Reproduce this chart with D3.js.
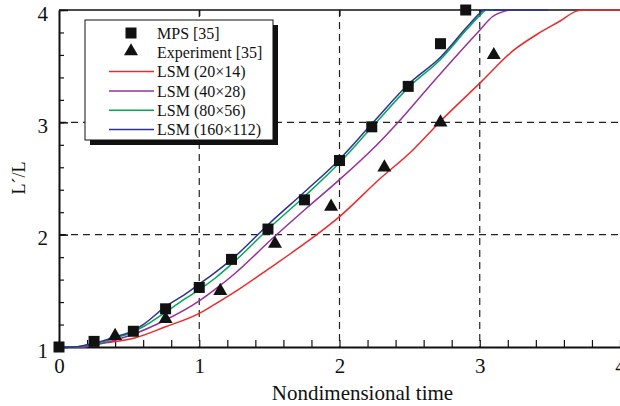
<!DOCTYPE html>
<html>
<head>
<meta charset="utf-8">
<script src="https://cdn.jsdelivr.net/npm/d3@7"></script>
<style>
  html, body { margin: 0; padding: 0; background: #fff; overflow: hidden; }
  svg { display: block; font-family: "Liberation Serif", "Times New Roman", serif; }
</style>
</head>
<body>
<svg id="chart" width="620" height="406"></svg>
<script>
// ---- Data ----
const xTicks = [0, 1, 2, 3, 4];
const yTicks = [1, 2, 3, 4];
const xTitle = "Nondimensional time";
const yTitle = "L\u00B4/L";

const mpsT = [0, 0.25, 0.53, 0.76, 1.0, 1.23, 1.49, 1.75, 2.0, 2.23, 2.49, 2.72, 2.90];
const mpsV = [1.0, 1.05, 1.14, 1.34, 1.53, 1.78, 2.05, 2.31, 2.66, 2.96, 3.32, 3.70, 4.0];

const expT = [0.40, 0.76, 1.15, 1.54, 1.94, 2.32, 2.72, 3.10];
const expV = [1.09, 1.24, 1.49, 1.91, 2.24, 2.59, 2.99, 3.59];

const lsm20T = [0, 0.15, 0.3, 0.54, 0.76, 1.0, 1.11, 1.29, 1.5, 1.65, 2.0, 2.29, 2.52, 2.72, 3.01, 3.24, 3.43, 3.57, 3.69, 3.73, 4.05];
const lsm20V = [1, 1.0, 1.03, 1.08, 1.18, 1.30, 1.38, 1.52, 1.70, 1.83, 2.16, 2.50, 2.75, 3.01, 3.36, 3.64, 3.80, 3.90, 3.99, 4.0, 4.0];

const lsm40T = [0, 0.15, 0.3, 0.5, 0.76, 1.0, 1.11, 1.25, 1.525, 1.75, 2.0, 2.29, 2.41, 2.64, 2.81, 3.0, 3.09, 3.18, 3.22];
const lsm40V = [1, 1.0, 1.03, 1.10, 1.24, 1.41, 1.51, 1.65, 1.97, 2.22, 2.49, 2.83, 2.99, 3.32, 3.56, 3.82, 3.94, 3.99, 4.0];

const lsm80T = [0, 0.1, 0.2, 0.3, 0.4, 0.5, 0.6, 0.76, 0.9, 1.0, 1.11, 1.25, 1.5, 1.75, 2.0, 2.24, 2.5, 2.72, 2.91, 3.0, 3.05, 3.1];
const lsm80V = [1, 1.0, 1.015, 1.04, 1.08, 1.12, 1.18, 1.31, 1.43, 1.51, 1.61, 1.76, 2.06, 2.34, 2.64, 2.97, 3.32, 3.56, 3.83, 3.95, 4.0, 4.0];

const lsm160T = [0, 0.1, 0.2, 0.3, 0.4, 0.5, 0.6, 0.76, 0.9, 1.0, 1.11, 1.25, 1.5, 1.75, 2.0, 2.24, 2.5, 2.72, 2.91, 3.0, 3.03, 3.49];
const lsm160V = [1, 1.0, 1.02, 1.05, 1.09, 1.13, 1.20, 1.36, 1.47, 1.56, 1.66, 1.80, 2.10, 2.38, 2.67, 3.0, 3.35, 3.58, 3.85, 3.97, 4.0, 4.0];

const seriesNames = ["LSM (20\u00D714)", "LSM (40\u00D728)", "LSM (80\u00D756)", "LSM (160\u00D7112)"];
const seriesColors = ["#ed2a2a", "#93329a", "#00a859", "#2e3192"];

// ---- Build ----
const lines = [
  { name: seriesNames[0], color: seriesColors[0], pts: lsm20T.map((t, i) => [t, lsm20V[i]]) },
  { name: seriesNames[1], color: seriesColors[1], pts: lsm40T.map((t, i) => [t, lsm40V[i]]) },
  { name: seriesNames[2], color: seriesColors[2], pts: lsm80T.map((t, i) => [t, lsm80V[i]]) },
  { name: seriesNames[3], color: seriesColors[3], pts: lsm160T.map((t, i) => [t, lsm160V[i]]) }
];
const mps = mpsT.map((t, i) => [t, mpsV[i]]);
const exp = expT.map((t, i) => [t, expV[i]]);

const svg = d3.select("#chart");
const x0 = 59, x1 = 620, yb = 347, yt = 10;
const x = d3.scaleLinear().domain([0, 4]).range([x0, x1]);
const y = d3.scaleLinear().domain([1, 4]).range([yb, yt]);

// grid (dashed)
const grid = svg.append("g");
grid.selectAll("line.v").data([1, 2, 3]).join("line")
  .attr("x1", d => x(d)).attr("x2", d => x(d))
  .attr("y1", yt).attr("y2", yb)
  .attr("stroke", "#222").attr("stroke-width", 1.2).attr("stroke-dasharray", "7,5");
grid.selectAll("line.h").data([2, 3]).join("line")
  .attr("x1", x0).attr("x2", x1)
  .attr("y1", d => y(d)).attr("y2", d => y(d))
  .attr("stroke", "#222").attr("stroke-width", 1.2).attr("stroke-dasharray", "7,5");

// top frame
svg.append("line").attr("x1", x0).attr("x2", 620).attr("y1", yt).attr("y2", yt)
  .attr("stroke", "#111").attr("stroke-width", 1.5);
// top ticks
svg.append("g").attr("transform", `translate(0,${yt})`)
  .call(d3.axisTop(x).tickValues([1, 2, 3]).tickSize(-6).tickFormat(""))
  .call(g => g.select(".domain").remove())
  .call(g => g.selectAll("line").attr("stroke", "#111").attr("stroke-width", 1.2));

// bottom minor ticks
svg.append("g").attr("transform", `translate(0,${yb})`)
  .call(d3.axisBottom(x).tickValues(d3.range(0, 4.01, 0.2)).tickSize(-7).tickFormat(""))
  .call(g => g.select(".domain").remove())
  .call(g => g.selectAll("line").attr("stroke", "#111").attr("stroke-width", 1.2));
// bottom major
svg.append("g").attr("transform", `translate(0,${yb})`)
  .call(d3.axisBottom(x).tickValues(xTicks).tickSize(0).tickSizeOuter(0).tickFormat(d3.format("d")))
  .call(g => g.select(".domain").attr("stroke", "#111").attr("stroke-width", 2))
  .call(g => g.selectAll("text").attr("y", 26).attr("dy", null)
      .attr("font-size", 21).attr("font-family", "Liberation Serif").attr("fill", "#111"));

// left minor ticks
svg.append("g").attr("transform", `translate(${x0},0)`)
  .call(d3.axisLeft(y).tickValues(d3.range(1, 4.01, 0.2)).tickSize(-5).tickFormat(""))
  .call(g => g.select(".domain").remove())
  .call(g => g.selectAll("line").attr("stroke", "#111").attr("stroke-width", 1.2));
// left major
svg.append("g").attr("transform", `translate(${x0},0)`)
  .call(d3.axisLeft(y).tickValues(yTicks).tickSize(-9).tickSizeOuter(0).tickPadding(11).tickFormat(d3.format("d")))
  .call(g => g.select(".domain").attr("stroke", "#111").attr("stroke-width", 2))
  .call(g => g.selectAll("line").attr("stroke", "#111").attr("stroke-width", 1.5))
  .call(g => g.selectAll("text").attr("dy", "0.48em")
      .attr("font-size", 21).attr("font-family", "Liberation Serif").attr("fill", "#111"));

// axis titles
svg.append("text").attr("x", 362.5).attr("y", 400).attr("text-anchor", "middle")
  .attr("font-size", 21).attr("fill", "#111").text(xTitle);
svg.append("text").attr("transform", "translate(25,178) rotate(-90)").attr("text-anchor", "middle")
  .attr("font-size", 18).attr("fill", "#111").text(yTitle);

// lines
const lineGen = d3.line().x(d => x(d[0])).y(d => y(d[1])).curve(d3.curveMonotoneX);
svg.append("g").selectAll("path").data(lines).join("path")
  .attr("d", d => lineGen(d.pts))
  .attr("fill", "none").attr("stroke", d => d.color).attr("stroke-width", 1.5);

// markers
const sq = 11;
svg.append("g").selectAll("rect").data(mps).join("rect")
  .attr("x", d => x(d[0]) - sq / 2).attr("y", d => y(d[1]) - sq / 2)
  .attr("width", sq).attr("height", sq).attr("fill", "#111");
const tri = d3.symbol().type(d3.symbolTriangle).size(85);
svg.append("g").selectAll("path").data(exp).join("path")
  .attr("transform", d => `translate(${x(d[0])},${y(d[1]) - 1})`)
  .attr("d", tri).attr("fill", "#111");

// legend
const lg = svg.append("g");
lg.append("rect").attr("x", 90).attr("y", 25).attr("width", 188).attr("height", 120).attr("fill", "#111");
lg.append("rect").attr("x", 85).attr("y", 20).attr("width", 188).attr("height", 120)
  .attr("fill", "#fff").attr("stroke", "#111").attr("stroke-width", 1);
const rowY = i => 33 + i * 19.3;
const legItems = [
  { label: "MPS [35]", kind: "sq" },
  { label: "Experiment [35]", kind: "tri" },
  ...lines.map(l => ({ label: l.name, kind: "line", color: l.color }))
];
legItems.forEach((it, i) => {
  const cy = rowY(i);
  if (it.kind === "sq") {
    lg.append("rect").attr("x", 131 - 5.5).attr("y", cy - 5.5).attr("width", 11).attr("height", 11).attr("fill", "#111");
  } else if (it.kind === "tri") {
    lg.append("path").attr("transform", `translate(131,${cy - 1})`).attr("d", tri).attr("fill", "#111");
  } else {
    lg.append("line").attr("x1", 109).attr("x2", 154).attr("y1", cy).attr("y2", cy)
      .attr("stroke", it.color).attr("stroke-width", 1.5);
  }
  lg.append("text").attr("x", 157).attr("y", cy).attr("dy", "0.35em")
    .attr("font-size", 16).attr("fill", "#111").text(it.label);
});
</script>
</body>
</html>
